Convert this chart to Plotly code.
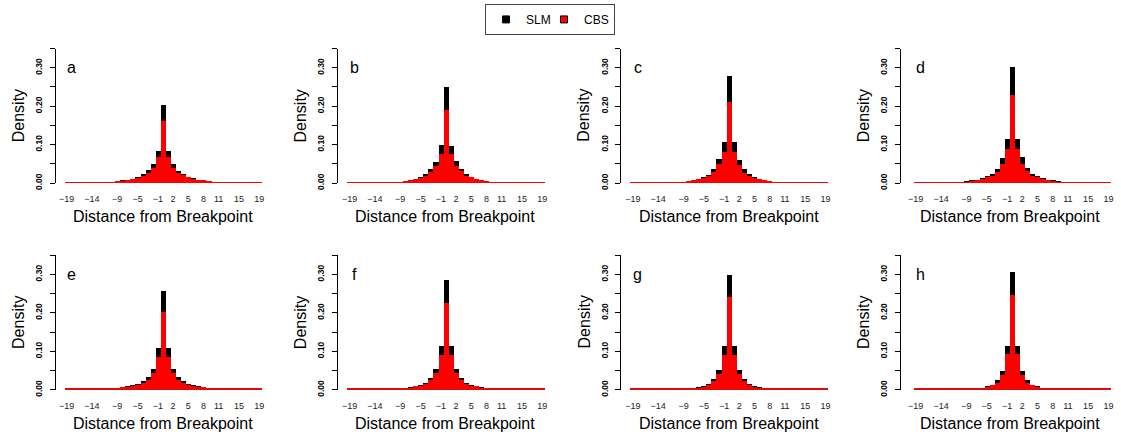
import plotly.graph_objects as go

# ---------------- data ----------------
distance = list(range(-19, 20))
tick_values = [-19, -14, -9, -5, -1, 2, 5, 8, 11, 15, 19]
panel_labels = ["a", "b", "c", "d", "e", "f", "g", "h"]

slm_a = [0.002, 0.002, 0.002, 0.002, 0.0025, 0.003, 0.003, 0.003, 0.004, 0.005, 0.007, 0.008, 0.009, 0.012, 0.017, 0.024, 0.036, 0.051, 0.0835,
         0.2046,
         0.0835, 0.051, 0.033, 0.024, 0.018, 0.014, 0.010, 0.009, 0.007, 0.005, 0.004, 0.003, 0.003, 0.003, 0.0025, 0.002, 0.002, 0.002, 0.002]
cbs_a = [0.002, 0.002, 0.002, 0.002, 0.002, 0.0025, 0.0025, 0.0025, 0.0035, 0.0045, 0.0065, 0.0075, 0.0085, 0.011, 0.015, 0.020, 0.028, 0.041, 0.069,
         0.164,
         0.069, 0.041, 0.028, 0.021, 0.016, 0.012, 0.009, 0.008, 0.0065, 0.0045, 0.0035, 0.0025, 0.0025, 0.0025, 0.002, 0.002, 0.002, 0.002, 0.002]

slm_b = [0.002, 0.002, 0.002, 0.002, 0.003, 0.003, 0.003, 0.003, 0.003, 0.004, 0.005, 0.007, 0.009, 0.013, 0.017, 0.026, 0.038, 0.057, 0.1006,
         0.2506,
         0.097, 0.058, 0.038, 0.026, 0.018, 0.013, 0.009, 0.007, 0.005, 0.004, 0.003, 0.003, 0.0025, 0.0025, 0.002, 0.002, 0.002, 0.002, 0.002]
cbs_b = [0.002, 0.002, 0.002, 0.002, 0.0025, 0.0025, 0.0025, 0.0025, 0.0025, 0.0035, 0.0045, 0.006, 0.008, 0.011, 0.015, 0.020, 0.031, 0.046, 0.0776,
         0.192,
         0.0776, 0.046, 0.032, 0.020, 0.016, 0.011, 0.008, 0.006, 0.0045, 0.0035, 0.0025, 0.0025, 0.002, 0.002, 0.002, 0.002, 0.002, 0.002, 0.002]

slm_c = [0.002, 0.002, 0.002, 0.002, 0.002, 0.002, 0.003, 0.003, 0.004, 0.004, 0.005, 0.007, 0.009, 0.012, 0.017, 0.023, 0.038, 0.065, 0.107,
         0.2796,
         0.107, 0.061, 0.038, 0.025, 0.017, 0.012, 0.009, 0.007, 0.005, 0.004, 0.003, 0.003, 0.002, 0.002, 0.002, 0.002, 0.002, 0.002, 0.002]
cbs_c = [0.002, 0.002, 0.002, 0.002, 0.002, 0.002, 0.0025, 0.0025, 0.0035, 0.0035, 0.0045, 0.006, 0.008, 0.011, 0.015, 0.019, 0.031, 0.051, 0.082,
         0.213,
         0.082, 0.049, 0.028, 0.019, 0.015, 0.011, 0.008, 0.006, 0.0045, 0.0035, 0.0025, 0.0025, 0.002, 0.002, 0.002, 0.002, 0.002, 0.002, 0.002]

slm_d = [0.002, 0.002, 0.002, 0.002, 0.002, 0.002, 0.003, 0.003, 0.003, 0.004, 0.006, 0.008, 0.010, 0.014, 0.019, 0.025, 0.038, 0.0665, 0.116,
         0.302,
         0.116, 0.069, 0.041, 0.025, 0.019, 0.014, 0.010, 0.008, 0.006, 0.004, 0.003, 0.003, 0.003, 0.002, 0.002, 0.002, 0.002, 0.002, 0.002]
cbs_d = [0.002, 0.002, 0.002, 0.002, 0.002, 0.002, 0.0025, 0.0025, 0.0025, 0.0035, 0.005, 0.007, 0.009, 0.012, 0.016, 0.020, 0.031, 0.051, 0.090,
         0.231,
         0.090, 0.051, 0.032, 0.020, 0.016, 0.012, 0.009, 0.007, 0.005, 0.0035, 0.0025, 0.0025, 0.0025, 0.002, 0.002, 0.002, 0.002, 0.002, 0.002]

slm_e = [0.002, 0.002, 0.002, 0.002, 0.002, 0.002, 0.002, 0.003, 0.003, 0.003, 0.005, 0.006, 0.008, 0.011, 0.015, 0.021, 0.033, 0.054, 0.107,
         0.2566,
         0.107, 0.054, 0.033, 0.021, 0.015, 0.011, 0.008, 0.006, 0.005, 0.003, 0.003, 0.003, 0.002, 0.002, 0.002, 0.002, 0.002, 0.002, 0.002]
cbs_e = [0.002, 0.002, 0.002, 0.002, 0.002, 0.002, 0.002, 0.0025, 0.0025, 0.0025, 0.0045, 0.0055, 0.007, 0.010, 0.013, 0.017, 0.026, 0.043, 0.084,
         0.202,
         0.084, 0.043, 0.026, 0.017, 0.013, 0.010, 0.007, 0.0055, 0.0045, 0.0025, 0.0025, 0.0025, 0.002, 0.002, 0.002, 0.002, 0.002, 0.002, 0.002]

slm_f = [0.002, 0.002, 0.002, 0.002, 0.002, 0.002, 0.002, 0.002, 0.002, 0.002, 0.003, 0.004, 0.006, 0.009, 0.012, 0.018, 0.031, 0.054, 0.113,
         0.284,
         0.113, 0.054, 0.031, 0.018, 0.012, 0.009, 0.006, 0.004, 0.003, 0.002, 0.002, 0.002, 0.002, 0.002, 0.002, 0.002, 0.002, 0.002, 0.002]
cbs_f = [0.002, 0.002, 0.002, 0.002, 0.002, 0.002, 0.002, 0.002, 0.002, 0.002, 0.0025, 0.0035, 0.005, 0.008, 0.010, 0.015, 0.024, 0.043, 0.0895,
         0.226,
         0.0895, 0.043, 0.024, 0.015, 0.010, 0.008, 0.005, 0.0035, 0.0025, 0.002, 0.002, 0.002, 0.002, 0.002, 0.002, 0.002, 0.002, 0.002, 0.002]

slm_g = [0.002, 0.002, 0.002, 0.002, 0.002, 0.002, 0.002, 0.002, 0.002, 0.002, 0.002, 0.003, 0.004, 0.006, 0.009, 0.015, 0.027, 0.052, 0.1125,
         0.299,
         0.1125, 0.052, 0.027, 0.015, 0.009, 0.006, 0.004, 0.003, 0.002, 0.002, 0.002, 0.002, 0.002, 0.002, 0.002, 0.002, 0.002, 0.002, 0.002]
cbs_g = [0.002, 0.002, 0.002, 0.002, 0.002, 0.002, 0.002, 0.002, 0.002, 0.002, 0.002, 0.0025, 0.0035, 0.005, 0.0075, 0.012, 0.021, 0.041, 0.090,
         0.240,
         0.090, 0.041, 0.021, 0.012, 0.0075, 0.005, 0.0035, 0.0025, 0.002, 0.002, 0.002, 0.002, 0.002, 0.002, 0.002, 0.002, 0.002, 0.002, 0.002]

slm_h = [0.002, 0.002, 0.002, 0.002, 0.002, 0.002, 0.002, 0.002, 0.002, 0.002, 0.002, 0.0025, 0.0035, 0.005, 0.008, 0.013, 0.024, 0.049, 0.1125,
         0.305,
         0.1125, 0.049, 0.024, 0.013, 0.008, 0.005, 0.0035, 0.0025, 0.002, 0.002, 0.002, 0.002, 0.002, 0.002, 0.002, 0.002, 0.002, 0.002, 0.002]
cbs_h = [0.002, 0.002, 0.002, 0.002, 0.002, 0.002, 0.002, 0.002, 0.002, 0.002, 0.002, 0.002, 0.003, 0.0045, 0.007, 0.011, 0.017, 0.038, 0.092,
         0.2455,
         0.092, 0.038, 0.017, 0.011, 0.007, 0.0045, 0.003, 0.002, 0.002, 0.002, 0.002, 0.002, 0.002, 0.002, 0.002, 0.002, 0.002, 0.002, 0.002]

slm_panels = [slm_a, slm_b, slm_c, slm_d, slm_e, slm_f, slm_g, slm_h]
cbs_panels = [cbs_a, cbs_b, cbs_c, cbs_d, cbs_e, cbs_f, cbs_g, cbs_h]

# ---------------- layout geometry (pixels) ----------------
W, H = 1121, 441
axis_px = [55.5, 337.7, 621.0, 900.5]      # y-axis line x position per column
first_bar_px = [64.0, 347.0, 630.3, 913.2]  # left edge of first bar per column
unit_px = 5.07                              # pixels per x unit
zero_px = [186.0, 396.0]                    # y pixel of density 0 per row
yscale_px = 390.6                           # pixels per density unit
YMAX = 0.35

FONT = "Liberation Sans, Arial, Helvetica, sans-serif"
NARROW = "Liberation Sans Narrow, Arial Narrow, Liberation Sans, sans-serif"

fig = go.Figure()
layout = dict(
    width=W, height=H, autosize=False,
    margin=dict(l=0, r=0, t=0, b=0),
    paper_bgcolor="white", plot_bgcolor="white",
    barmode="overlay", bargap=0,
    font=dict(family=FONT, color="black"),
    showlegend=True,
)
annotations = []

for i in range(8):
    r, c = divmod(i, 4)
    n = i + 1
    xa = "x" if n == 1 else f"x{n}"
    ya = "y" if n == 1 else f"y{n}"
    left_px = axis_px[c]
    right_px = first_bar_px[c] + 39 * unit_px + 8
    x_lo = -19.5 - (first_bar_px[c] - left_px) / unit_px
    x_hi = 19.5 + 8 / unit_px
    y_bot = zero_px[r]
    y_top = zero_px[r] - YMAX * yscale_px

    fig.add_trace(go.Bar(x=distance, y=slm_panels[i], width=1, xaxis=xa, yaxis=ya,
                         marker=dict(color="black", line=dict(width=0)),
                         showlegend=False, hoverinfo="skip"))
    fig.add_trace(go.Bar(x=distance, y=cbs_panels[i], width=1, xaxis=xa, yaxis=ya,
                         marker=dict(color="#ff0000", line=dict(width=0)),
                         showlegend=False, hoverinfo="skip"))

    xkey = "xaxis" if n == 1 else f"xaxis{n}"
    ykey = "yaxis" if n == 1 else f"yaxis{n}"
    layout[xkey] = dict(
        domain=[left_px / W, right_px / W], range=[x_lo, x_hi], anchor=ya,
        showline=False, showgrid=False, zeroline=False, ticks="",
        tickmode="array", tickvals=tick_values,
        tickfont=dict(size=9, color="#222222", family=FONT),
        ticklabelstandoff=9, fixedrange=True,
    )
    layout[ykey] = dict(
        domain=[1 - y_bot / H, 1 - y_top / H], range=[0, YMAX], anchor=xa,
        showline=True, linecolor="black", linewidth=1,
        showgrid=False, zeroline=False,
        ticks="outside", ticklen=5, tickwidth=1, tickcolor="black",
        tickmode="array",
        tickvals=[0, 0.05, 0.10, 0.15, 0.20, 0.25, 0.30, 0.35],
        ticktext=["0.00", "", "0.10", "", "0.20", "", "0.30", ""],
        tickangle=-90, tickfont=dict(size=8.5, color="black", family=NARROW, weight="bold"),
        ticklabelstandoff=4, fixedrange=True,
    )
    # panel letter
    annotations.append(dict(text=panel_labels[i], xref=xa, yref=ya, x=-18, y=0.300,
                            showarrow=False, xanchor="center", yanchor="middle",
                            font=dict(size=16, family=FONT, color="black")))
    # x-axis title
    annotations.append(dict(text="Distance from Breakpoint", xref="paper", yref="paper",
                            x=((left_px + right_px) / 2) / W, y=1 - (y_bot + 34) / H,
                            showarrow=False, xanchor="center", yanchor="middle",
                            font=dict(size=16, family=FONT, color="black")))
    # y-axis title
    annotations.append(dict(text="Density", xref="paper", yref="paper",
                            x=(left_px - 37) / W, y=1 - ((y_bot + y_top) / 2) / H,
                            textangle=-90, showarrow=False, xanchor="center", yanchor="middle",
                            font=dict(size=16, family=FONT, color="black")))

# legend proxies
fig.add_trace(go.Scatter(x=[None], y=[None], mode="markers", name="SLM", legendwidth=13,
                         marker=dict(symbol="square", size=7, color="black",
                                     line=dict(color="black", width=1))))
fig.add_trace(go.Scatter(x=[None], y=[None], mode="markers", name="CBS",
                         marker=dict(symbol="square", size=7, color="#ff0000",
                                     line=dict(color="black", width=1))))

layout["legend"] = dict(
    orientation="h", x=550 / W, y=1 - 4 / H, xanchor="center", yanchor="top",
    bordercolor="#444444", borderwidth=1, bgcolor="white",
    font=dict(size=12, family=FONT, color="black"),
    itemwidth=30, tracegroupgap=0,
)
layout["annotations"] = annotations
fig.update_layout(**layout)

fig.write_html("out.html")
